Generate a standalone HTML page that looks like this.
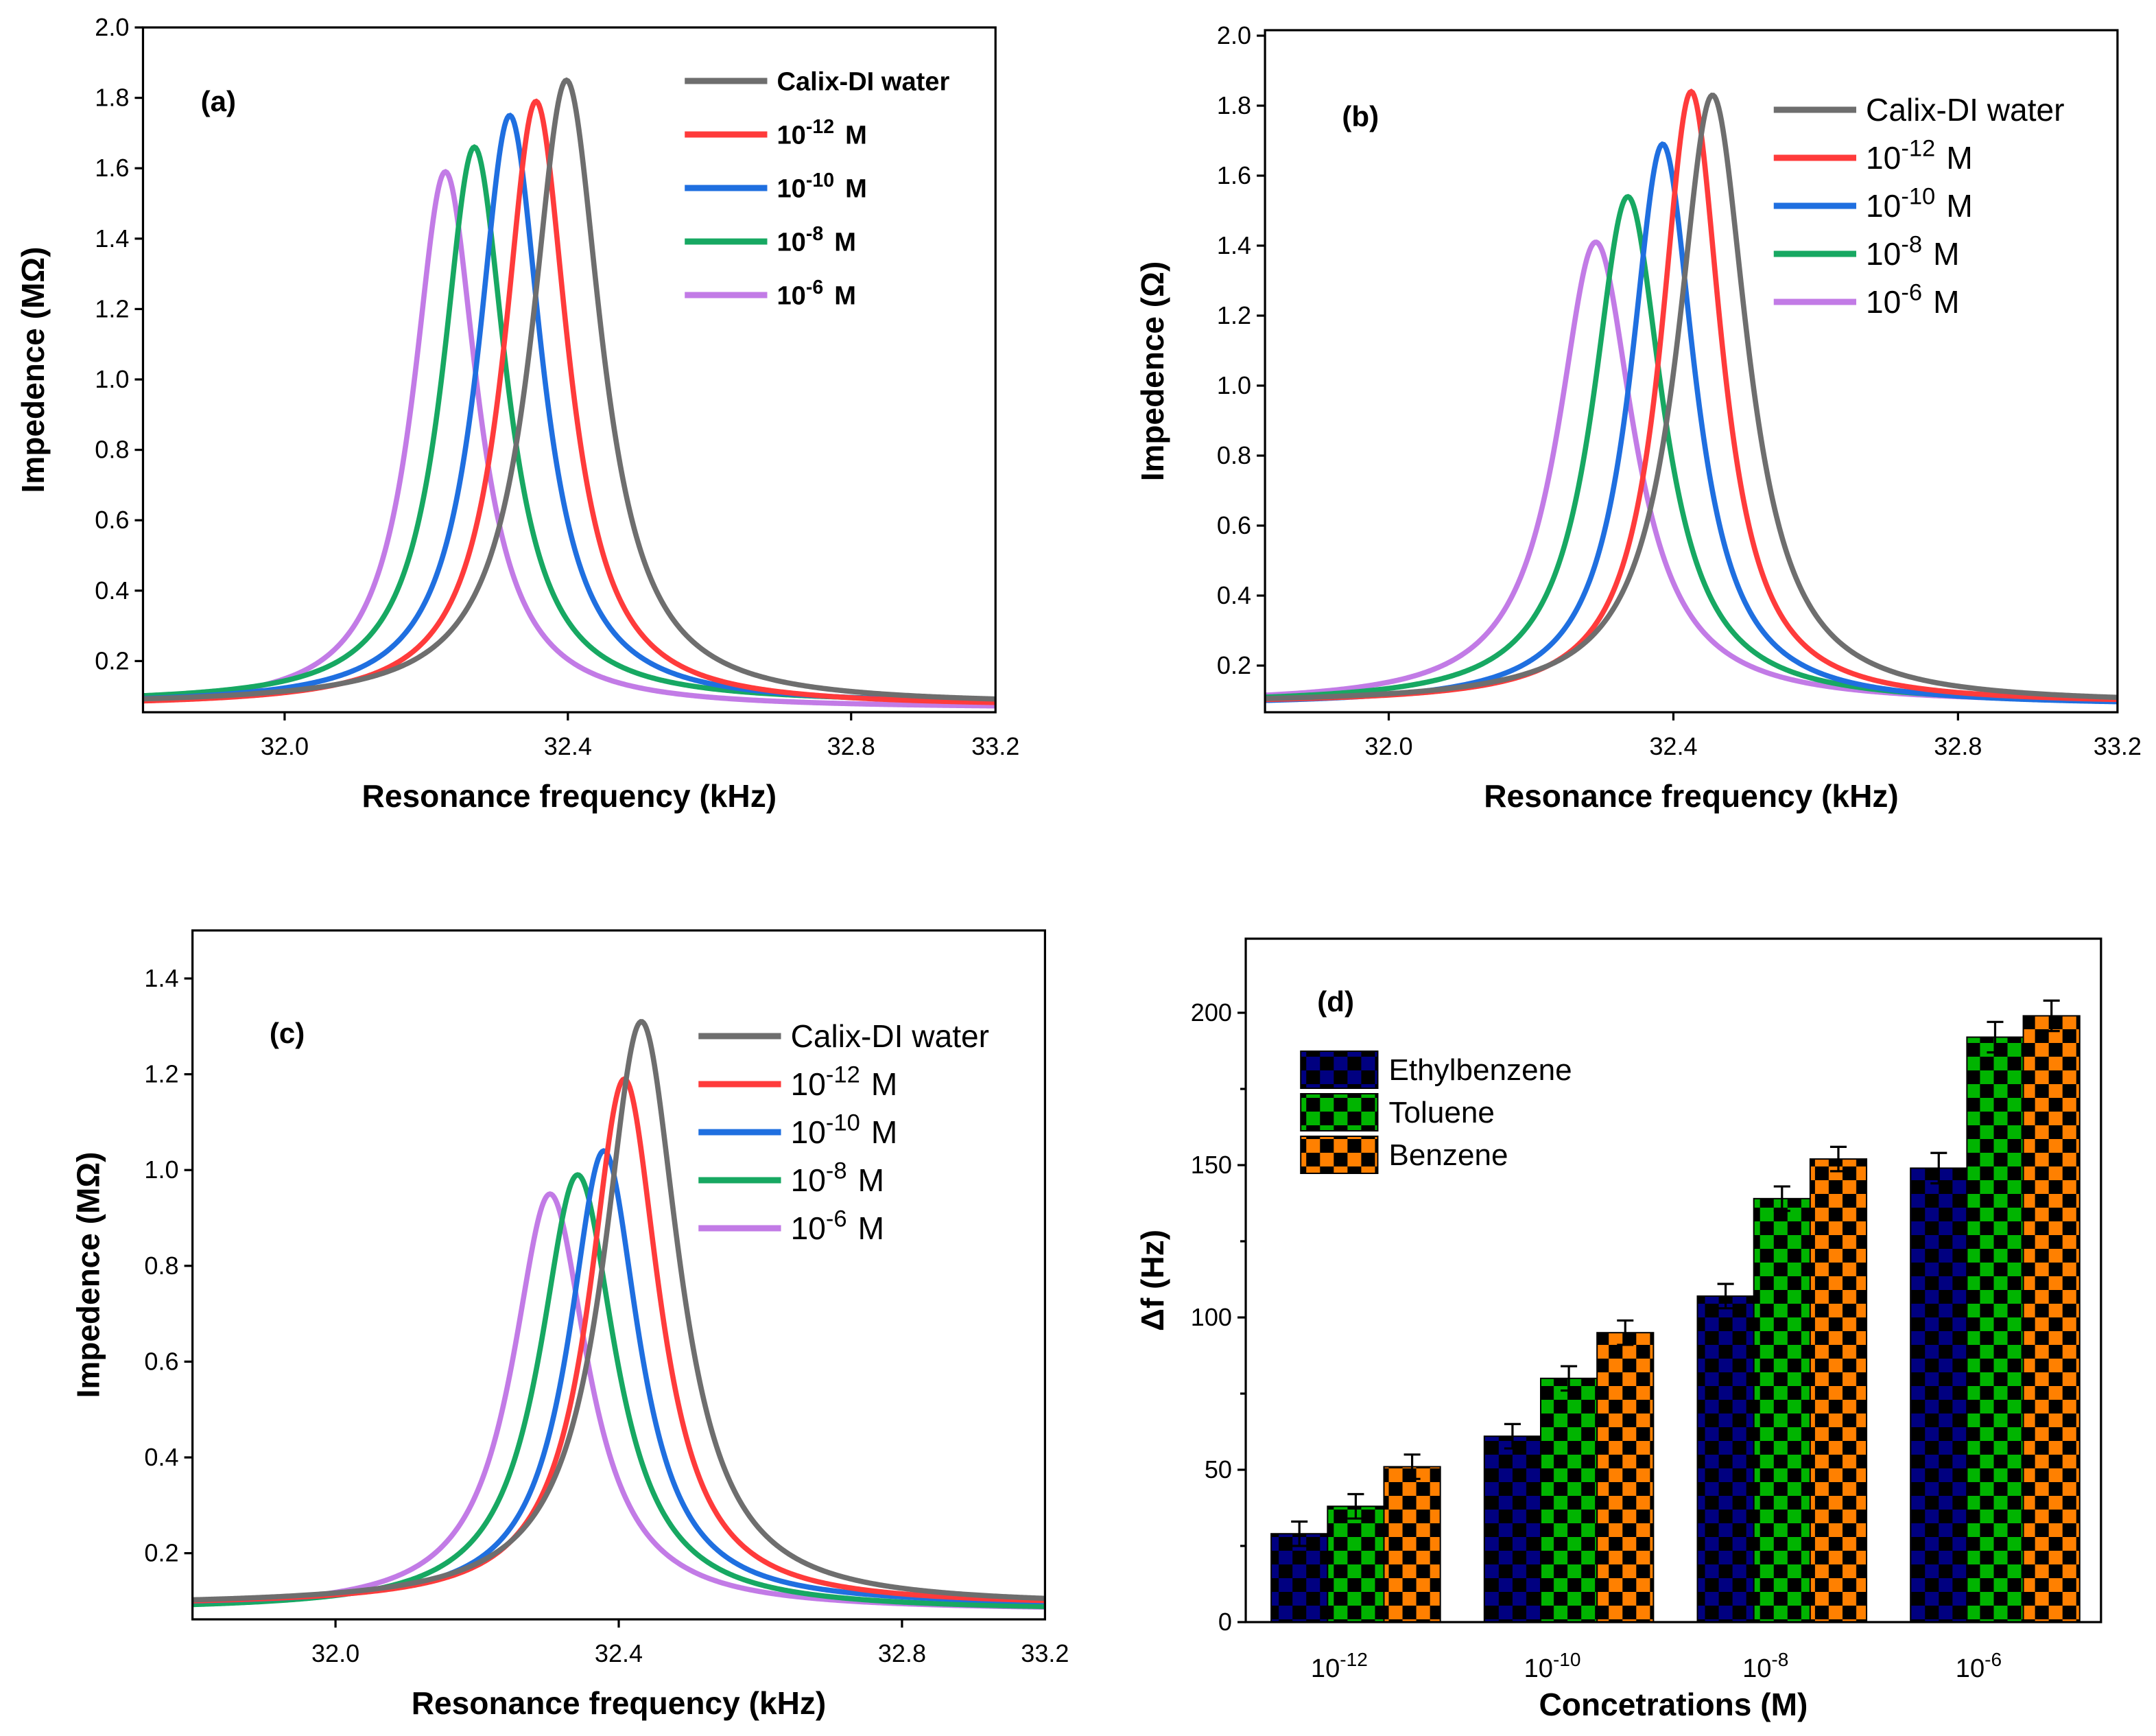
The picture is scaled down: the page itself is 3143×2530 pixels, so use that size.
<!DOCTYPE html>
<html><head><meta charset="utf-8"><style>
html,body{margin:0;padding:0;background:#fff}
svg{display:block}
text{font-family:"Liberation Sans",Arial,sans-serif}
</style></head><body>
<svg id="fig" width="3143" height="2530" viewBox="0 0 1568 1265" preserveAspectRatio="none" xmlns="http://www.w3.org/2000/svg">
<defs>
<pattern id="pEth" width="20" height="20" patternUnits="userSpaceOnUse"><rect width="20" height="20" fill="#000"/><rect width="10" height="10" fill="#000080"/><rect x="10" y="10" width="10" height="10" fill="#000080"/></pattern>
<pattern id="pTol" width="20" height="20" patternUnits="userSpaceOnUse"><rect width="20" height="20" fill="#000"/><rect width="10" height="10" fill="#00b400"/><rect x="10" y="10" width="10" height="10" fill="#00b400"/></pattern>
<pattern id="pBen" width="20" height="20" patternUnits="userSpaceOnUse"><rect width="20" height="20" fill="#000"/><rect width="10" height="10" fill="#ff8000"/><rect x="10" y="10" width="10" height="10" fill="#ff8000"/></pattern>
</defs>
</svg>
<script>
const seriesNames=["Calix-DI water","10^-12 M","10^-10 M","10^-8 M","10^-6 M"];
const seriesColors=["#6e6e6e","#ff3b3b","#1f6fe0","#17a862","#c27be6"];
const aCenters=[32.398,32.355,32.318,32.268,32.227];
const aHeights=[1.85,1.79,1.75,1.66,1.59];
const aWidths=[0.06,0.055,0.055,0.055,0.055];
const aBase=[0.075,0.07,0.075,0.08,0.065];
const bCenters=[32.455,32.425,32.385,32.336,32.291];
const bHeights=[1.83,1.84,1.69,1.54,1.41];
const bWidths=[0.06,0.052,0.055,0.06,0.065];
const bBase=[0.09,0.09,0.085,0.09,0.09];
const cCenters=[32.432,32.408,32.379,32.342,32.303];
const cHeights=[1.31,1.19,1.04,0.99,0.95];
const cWidths=[0.065,0.06,0.06,0.065,0.065];
const cBase=[0.09,0.09,0.09,0.08,0.08];
const xTickVals=[32.0,32.4,32.8];
const xTickLabels=["32.0","32.4","32.8"];
const yTickAB=[0.2,0.4,0.6,0.8,1.0,1.2,1.4,1.6,1.8,2.0];
const yTickC=[0.2,0.4,0.6,0.8,1.0,1.2,1.4];
const dCategories=["-12","-10","-8","-6"];
const ethVals=[29,61,107,149];
const tolVals=[38,80,139,192];
const benVals=[51,95,152,199];
const errVals=[4,4,4,5];
const dYTicks=[0,50,100,150,200];

const svg=document.getElementById('fig');
const NS="http://www.w3.org/2000/svg";
function el(tag,attrs,parent){const e=document.createElementNS(NS,tag);for(const k in attrs)e.setAttribute(k,attrs[k]);(parent||svg).appendChild(e);return e;}
function txt(x,y,s,size,bold,anchor,parent){const t=el('text',{x:x,y:y,'font-size':size,'font-weight':bold?'bold':'normal','text-anchor':anchor||'start'},parent);t.textContent=s;return t;}

function linePanel(cfg){
  const g=el('g',{});
  
  
  const X=v=>cfg.x32+(v-32)*cfg.kx;
  const Y=v=>cfg.y0+(v-cfg.v0)*cfg.ky;
  const cp=el('clipPath',{id:'clip'+cfg.name},g);
  el('rect',{x:cfg.L,y:cfg.T,width:cfg.R-cfg.L,height:cfg.B-cfg.T},cp);
  const lg=el('g',{'clip-path':'url(#clip'+cfg.name+')'},g);
  for(let i=cfg.centers.length-1;i>=0;i--){
    let d='';
    for(let px=cfg.L;px<=cfg.R;px+=1){
      const v=32+(px-cfg.x32)/cfg.kx;
      const u=(v-cfg.centers[i])/cfg.widths[i];
      const yv=cfg.base[i]+(cfg.heights[i]-cfg.base[i])/(1+u*u);
      d+=(d?'L':'M')+px+','+Y(yv).toFixed(2);
    }
    const p=el('path',{d:d,fill:'none',stroke:seriesColors[i],'stroke-width':3.8},lg);
    
    
  }
  el('rect',{x:cfg.L,y:cfg.T,width:cfg.R-cfg.L,height:cfg.B-cfg.T,fill:'none',stroke:'#000','stroke-width':1.6},g);
  cfg.yTicks.forEach(v=>{const y=Y(v);el('line',{x1:cfg.L-6,x2:cfg.L,y1:y,y2:y,stroke:'#000','stroke-width':1.6},g);txt(cfg.L-10,y+6,v.toFixed(1),18,false,'end',g);});
  xTickVals.forEach((v,i)=>{const x=X(v);el('line',{x1:x,x2:x,y1:cfg.B,y2:cfg.B+6,stroke:'#000','stroke-width':1.6},g);txt(x,cfg.B+31,xTickLabels[i],18,false,'middle',g);});
  txt(cfg.R,cfg.B+31,"33.2",18,false,'middle',g);
  const xt=txt((cfg.L+cfg.R)/2,cfg.B+69,"Resonance frequency (kHz)",23,true,'middle',g);
  
  const yt=txt(0,0,cfg.ytitle,23,true,'middle',g);
  yt.setAttribute('transform','translate('+cfg.ytx+','+((cfg.T+cfg.B)/2)+') rotate(-90)');
  
  txt(cfg.lab[0],cfg.lab[1],cfg.lab[2],21,true,'start',g);
  const L=cfg.leg;
  const exps=[null,"-12","-10","-8","-6"];
  for(let i=0;i<5;i++){
    const y=L.y0+i*L.dy;
    const le=el('g',{},g);
    
    
    el('line',{x1:L.x,x2:L.x+60,y1:y,y2:y,stroke:seriesColors[i],'stroke-width':4.5},le);
    const t=el('text',{x:L.x+67,y:y+L.fs*0.35,'font-size':L.fs,'font-weight':L.bold?'bold':'normal'},le);
    if(i==0){t.textContent="Calix-DI water";}
    else{
      const a=el('tspan',{},t);a.textContent="10";
      const b=el('tspan',{dy:-L.fs*0.4,'font-size':L.fs*0.75},t);b.textContent=exps[i];
      const c=el('tspan',{dy:L.fs*0.4,dx:8},t);c.textContent="M";
    }
  }
}
linePanel({name:'panel-a',L:104,R:724,T:20,B:519,x32:207,kx:515,y0:20,v0:2.0,ky:-256.5,centers:aCenters,heights:aHeights,widths:aWidths,base:aBase,yTicks:yTickAB,ytitle:"Impedence (MΩ)",ytx:32,lab:[146,81,"(a)"],leg:{x:498,y0:59,dy:39,fs:19,bold:true}});
linePanel({name:'panel-b',L:920,R:1540,T:22,B:519,x32:1010,kx:517.5,y0:26,v0:2.0,ky:-255,centers:bCenters,heights:bHeights,widths:bWidths,base:bBase,yTicks:yTickAB,ytitle:"Impedence (Ω)",ytx:846,lab:[976,92,"(b)"],leg:{x:1290,y0:80,dy:35,fs:23,bold:false}});
linePanel({name:'panel-c',L:140,R:760,T:678,B:1180,x32:244,kx:515,y0:713,v0:1.4,ky:-349,centers:cCenters,heights:cHeights,widths:cWidths,base:cBase,yTicks:yTickC,ytitle:"Impedence (MΩ)",ytx:72,lab:[196,760,"(c)"],leg:{x:508,y0:755,dy:35,fs:23,bold:false}});

// panel d
(function(){
  const g=el('g',{});
  
  
  const L=906,R=1528,T=684,B=1182;
  const Y=v=>B-v*2.22;
  const groupX=i=>986+i*155;
  const bw=41;
  const sets=[[ethVals,'pEth'],[tolVals,'pTol'],[benVals,'pBen']];
  dCategories.forEach((c,i)=>{
    sets.forEach((s,j)=>{
      const x=groupX(i)+(j-1.5)*bw;
      const v=s[0][i];
      const r=el('rect',{x:x,y:Y(v),width:bw,height:B-Y(v),fill:'url(#'+s[1]+')',stroke:'#000','stroke-width':1},g);
      
      
      const cx=x+bw/2,e=errVals[i];
      el('path',{d:'M'+cx+','+Y(v-e)+'V'+Y(v+e)+'M'+(cx-6)+','+Y(v+e)+'H'+(cx+6)+'M'+(cx-6)+','+Y(v-e)+'H'+(cx+6),stroke:'#000','stroke-width':1.6,fill:'none'},g);
    });
    const t=el('text',{x:groupX(i)-12,y:B+40,'font-size':19,'text-anchor':'middle'},g);
    const a=el('tspan',{},t);a.textContent="10";
    const b=el('tspan',{dy:-8,'font-size':14},t);b.textContent=c;
  });
  el('rect',{x:L,y:T,width:R-L,height:B-T,fill:'none',stroke:'#000','stroke-width':1.6},g);
  dYTicks.forEach(v=>{const y=Y(v);el('line',{x1:L-6,x2:L,y1:y,y2:y,stroke:'#000','stroke-width':1.6},g);txt(L-10,y+6,String(v),18,false,'end',g);
    if(v<200){const y2=Y(v+25);el('line',{x1:L-4,x2:L,y1:y2,y2:y2,stroke:'#000','stroke-width':1.6},g);}});
  txt(1217,1250,"Concetrations (M)",23,true,'middle',g);
  const yt=txt(0,0,"Δf (Hz)",23,true,'middle',g);
  yt.setAttribute('transform','translate(846,933) rotate(-90)');
  txt(958,737,"(d)",21,true,'start',g);
  const names=["Ethylbenzene","Toluene","Benzene"],pats=['pEth','pTol','pBen'];
  names.forEach((n,i)=>{
    const y=766+i*31;
    const le=el('g',{},g);
    
    
    el('rect',{x:946,y:y,width:56,height:27,fill:'url(#'+pats[i]+')',stroke:'#000','stroke-width':1},le);
    txt(1010,y+21,n,22,false,'start',le);
  });
})();
</script>
</body></html>
